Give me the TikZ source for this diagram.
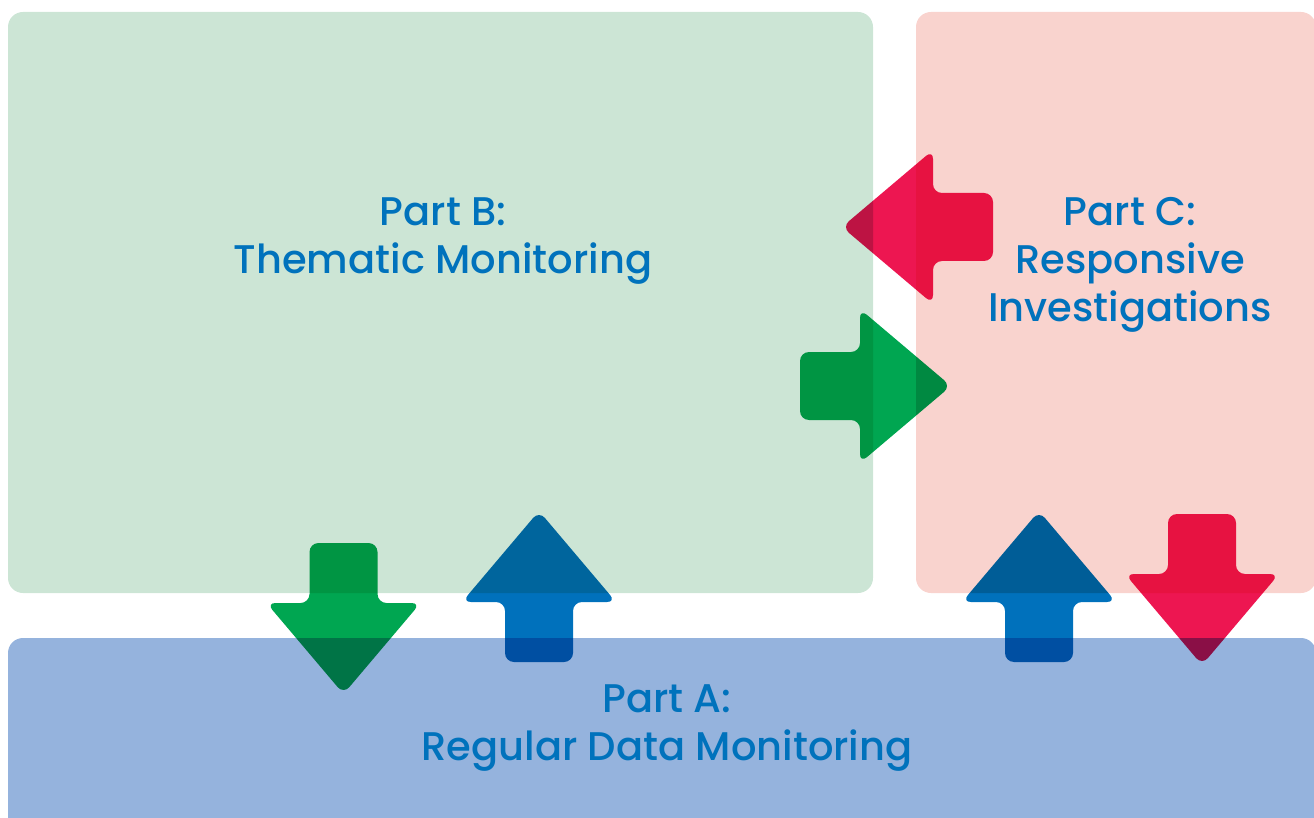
\documentclass[tikz,border=0pt]{standalone}
\usepackage{fontspec}
\setmainfont{Poppins}[UprightFont=* Medium]
\usepackage{tikz}

\definecolor{boxgreen}{RGB}{204,229,213}
\definecolor{boxpink}{RGB}{249,211,206}
\definecolor{boxblue}{RGB}{149,179,221}
\definecolor{arrgreen}{RGB}{0,166,81}
\definecolor{arrblue}{RGB}{0,113,188}
\definecolor{arrred}{RGB}{237,22,81}
\definecolor{txtblue}{RGB}{0,114,188}

\tikzset{
  partbox/.style={rounded corners=15pt},
  parttext/.style={text=txtblue, align=center, font=\fontsize{40}{48}\selectfont},
  bigarrow/.pic={
    \fill[rounded corners=9pt, blend mode=multiply, #1]
      (0,-34) -- (60,-34) -- (60,-77) -- (151,0) -- (60,77) -- (60,34) -- (0,34) -- cycle;
  },
}

\begin{document}
\begin{tikzpicture}[x=1pt, y=-1pt]
			\useasboundingbox (0,0) rectangle (1314,818);
			\clip (0,0) rectangle (1314,818);
			% the three parts
			\fill[partbox, boxgreen] (8,12) rectangle (873,593);
			\fill[partbox, boxpink] (916,12) rectangle (1316,593);
			\fill[partbox, boxblue] (8,638) rectangle (1316,850);
			\node[parttext] (partB) at (443,241) {Part B:\\Thematic Monitoring};
			\node[parttext] (partC) at (1130,265) {Part C:\\Responsive\\Investigations};
			\node[parttext] (partA) at (667,728) {Part A:\\Regular Data Monitoring};
			% arrows between the parts
			\pic[rotate=180] at (993,227) {bigarrow=arrred};
			\pic at (800,386) {bigarrow=arrgreen};
			\pic[rotate=-90] at (343.5,543) {bigarrow=arrgreen};
			\pic[rotate=90] at (539,662) {bigarrow=arrblue};
			\pic[rotate=90] at (1039,662) {bigarrow=arrblue};
			\pic[rotate=-90] at (1202,514) {bigarrow=arrred};
		\end{tikzpicture}
\end{document}
